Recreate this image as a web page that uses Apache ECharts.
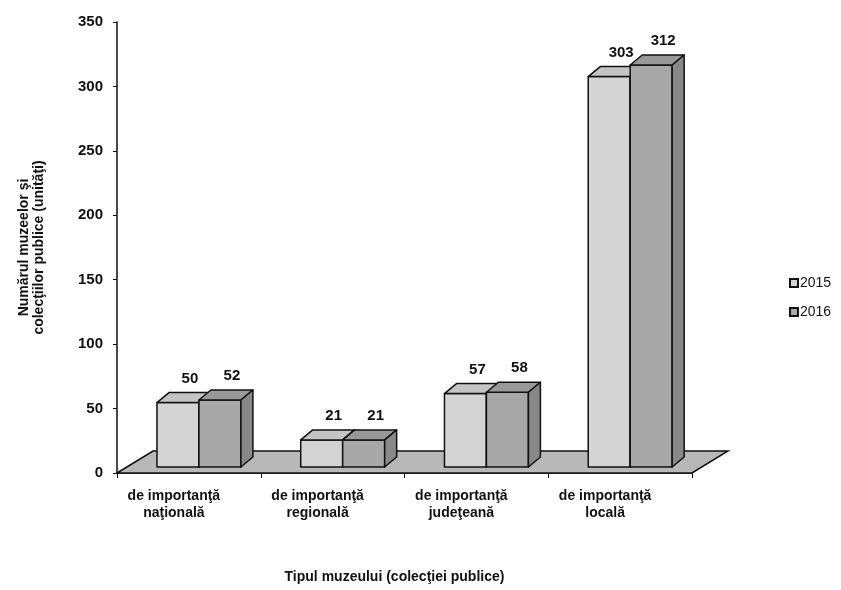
<!DOCTYPE html>
<html>
<head>
    <meta charset="utf-8">
    <title>Muzee si colectii publice</title>
    <style>
        html, body { margin: 0; padding: 0; background: #fff; }
    </style>
</head>
<body>
    <div id="main" style="width: 841px;height:590px;"></div>
    <script src="https://cdn.jsdelivr.net/npm/echarts@6/dist/echarts.min.js"></script>
    <script type="text/javascript">
        // date
        var categories = ['de importanţă\nnaţională', 'de importanţă\nregională', 'de importanţă\njudeţeană', 'de importanţă\nlocală'];
        var values2015 = [50, 21, 57, 303];
        var values2016 = [52, 21, 58, 312];
        var yTicks = [0, 50, 100, 150, 200, 250, 300, 350];

        var FONT = '"Liberation Sans", Arial, sans-serif';
        var DX = 12, DY = -10, LIFT = 6;   // adancimea barelor 3D
        var FLOOR_DX = 36, FLOOR_DY = -22; // adancimea podelei

        var myChart = echarts.init(document.getElementById('main'));

        // bara 3D: fata, capac, latura + eticheta
        function bar3d(offL, offR, front, top, side) {
            return function (params, api) {
                var cat = api.value(0), v = api.value(1);
                var base = api.coord([cat, 0]);
                var tp = api.coord([cat, v]);
                var bw = api.size([1, 0])[0];
                var xl = base[0] + offL * bw, xr = base[0] + offR * bw;
                var yb = base[1] - LIFT, yt = tp[1] - LIFT;
                var stroke = { stroke: '#111', lineWidth: 1.5, lineJoin: 'round' };
                return {
                    type: 'group',
                    children: [
                        { type: 'polygon', shape: { points: [[xl, yb], [xl, yt], [xr, yt], [xr, yb]] },
                          style: Object.assign({ fill: front }, stroke) },
                        { type: 'polygon', shape: { points: [[xl, yt], [xl + DX, yt + DY], [xr + DX, yt + DY], [xr, yt]] },
                          style: Object.assign({ fill: top }, stroke) },
                        { type: 'polygon', shape: { points: [[xr, yt], [xr + DX, yt + DY], [xr + DX, yb + DY], [xr, yb]] },
                          style: Object.assign({ fill: side }, stroke) },
                        { type: 'text', style: { text: String(v), x: (xl + xr) / 2 + 12, y: yt - 24,
                          align: 'center', verticalAlign: 'middle', fill: '#111',
                          font: 'bold 15px ' + FONT } }
                    ]
                };
            };
        }

        function pairs(arr) {
            return arr.map(function (v, i) { return [i, v]; });
        }

        var option = {
            animation: false,
            backgroundColor: '#fff',
            textStyle: { fontFamily: FONT },
            grid: { left: 117, right: 149, top: 22, bottom: 117, outerBoundsMode: 'none', containLabel: false },
            legend: {
                orient: 'vertical',
                left: 784, top: 271,
                itemWidth: 8, itemHeight: 8, itemGap: 15,
                icon: 'rect',
                textStyle: { fontSize: 14, color: '#111', padding: [0, 0, 0, -3] },
                data: ['2015', '2016']
            },
            xAxis: {
                type: 'category',
                data: categories,
                name: 'Tipul muzeului (colecţiei publice)',
                nameLocation: 'middle',
                nameGap: 104,
                nameTextStyle: { fontWeight: 'bold', fontSize: 14, color: '#111',
                                 verticalAlign: 'middle', padding: [0, 20, 0, 0] },
                axisLine: { show: true, lineStyle: { color: '#111', width: 1.5 } },
                axisTick: { show: true, length: 5, lineStyle: { color: '#111' } },
                axisLabel: { interval: 0, margin: 15, fontSize: 14, fontWeight: 'bold',
                             color: '#111', lineHeight: 17, padding: [0, 30, 0, 0] }
            },
            yAxis: {
                type: 'value',
                min: yTicks[0], max: yTicks[yTicks.length - 1], interval: 50,
                name: 'Numărul muzeelor şi\ncolecţiilor publice (unităţi)',
                nameLocation: 'middle',
                nameGap: 70,
                nameRotate: 90,
                nameTextStyle: { fontWeight: 'bold', fontSize: 14, color: '#111', lineHeight: 15 },
                axisLine: { show: true, lineStyle: { color: '#111', width: 1.5 } },
                axisTick: { show: true, length: 4, lineStyle: { color: '#111' } },
                axisLabel: { margin: 14, fontSize: 15, fontWeight: 'bold', color: '#111' },
                splitLine: { show: false }
            },
            series: [
                {
                    // podeaua gri
                    type: 'custom',
                    silent: true,
                    clip: false,
                    z: 1,
                    data: [[0, 0]],
                    renderItem: function (params, api) {
                        var cs = params.coordSys;
                        var yf = cs.y + cs.height;
                        return {
                            type: 'polygon',
                            shape: { points: [[cs.x, yf], [cs.x + FLOOR_DX, yf + FLOOR_DY],
                                              [cs.x + cs.width + FLOOR_DX, yf + FLOOR_DY], [cs.x + cs.width, yf]] },
                            style: { fill: '#b8b8b8', stroke: '#111', lineWidth: 1.5 }
                        };
                    }
                },
                {
                    name: '2015',
                    type: 'custom',
                    z: 2,
                    clip: false,
                    itemStyle: { color: '#d4d4d4', borderColor: '#111', borderWidth: 1.5 },
                    data: pairs(values2015),
                    renderItem: bar3d(-0.222, 0.07, '#d4d4d4', '#c4c4c4', '#a0a0a0')
                },
                {
                    name: '2016',
                    type: 'custom',
                    z: 3,
                    clip: false,
                    itemStyle: { color: '#a8a8a8', borderColor: '#111', borderWidth: 1.5 },
                    data: pairs(values2016),
                    renderItem: bar3d(0.07, 0.362, '#a8a8a8', '#999999', '#888888')
                }
            ]
        };

        myChart.setOption(option);
    </script>
</body>
</html>
